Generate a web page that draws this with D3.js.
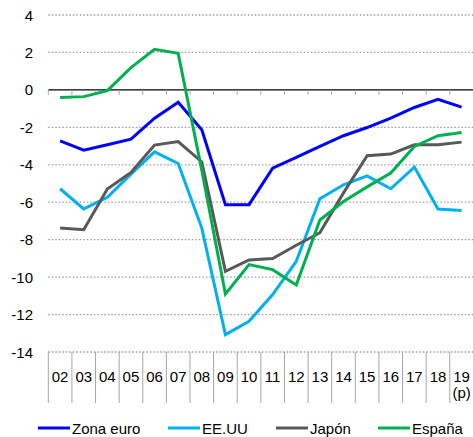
<!DOCTYPE html>
<html><head><meta charset="utf-8">
<script src="https://cdn.jsdelivr.net/npm/d3@7"></script>
<style>
html,body{margin:0;padding:0;background:#fff;}
svg{display:block;font-family:"Liberation Sans",Arial,sans-serif;}
</style></head>
<body>
<svg id="c" width="473" height="437"></svg>
<script>
const categories = ["02","03","04","05","06","07","08","09","10","11","12","13","14","15","16","17","18","19"];
const yTicks = [4,2,0,-2,-4,-6,-8,-10,-12,-14];
const zonaEuro = [-2.72,-3.22,-2.93,-2.63,-1.51,-0.66,-2.13,-6.13,-6.13,-4.18,-3.6,-3.02,-2.45,-2.01,-1.51,-0.94,-0.5,-0.92];
const eeuu     = [-5.28,-6.36,-5.74,-4.5,-3.31,-3.93,-7.38,-13.07,-12.36,-10.93,-9.16,-5.81,-5.07,-4.59,-5.28,-4.12,-6.36,-6.44];
const japon    = [-7.38,-7.47,-5.3,-4.41,-2.95,-2.76,-3.85,-9.69,-9.08,-9.01,-8.3,-7.63,-5.5,-3.52,-3.43,-2.93,-2.93,-2.79];
const espana   = [-0.41,-0.36,-0.04,1.19,2.17,1.95,-4.3,-10.9,-9.33,-9.6,-10.42,-6.95,-5.96,-5.18,-4.44,-3.02,-2.45,-2.28];
const seriesNames = ["Zona euro","EE.UU","Japón","España"];
const seriesColors = ["#0000ff","#00b0f0","#595959","#00b050"];
const seriesData = [zonaEuro, eeuu, japon, espana];

(function(){
const svg = d3.select("#c");
const pl = 48.3, pr = 473.4, pt = 15, pb = 352;
const x = d3.scaleBand().domain(categories).range([pl, pr]);
const y = d3.scaleLinear().domain([-14,4]).range([pb, pt]);

// gridlines
svg.append("g").selectAll("line").data(yTicks.filter(d=>d!==0)).join("line")
  .attr("x1", pl).attr("x2", pr)
  .attr("y1", d=>y(d)).attr("y2", d=>y(d))
  .attr("stroke","#9a9a9a").attr("stroke-width",1.3).attr("stroke-dasharray","1.5,2");

// y labels
svg.append("g").selectAll("text").data(yTicks).join("text")
  .attr("x", 33).attr("y", d=>y(d)+5.5).attr("text-anchor","end")
  .attr("font-size",15).attr("fill","#000").text(d=>d);

// category separators at bottom
const bounds = categories.map(c=>x(c));
svg.append("g").selectAll("line").data(bounds).join("line")
  .attr("x1", d=>d).attr("x2", d=>d).attr("y1", pb).attr("y2", 403)
  .attr("stroke","#a6a6a6").attr("stroke-width",1);

// zero axis with ticks
svg.append("line").attr("x1", pl).attr("x2", pr).attr("y1", y(0)).attr("y2", y(0))
  .attr("stroke","#000").attr("stroke-width",1.3);
svg.append("g").selectAll("line").data(bounds).join("line")
  .attr("x1", d=>d).attr("x2", d=>d).attr("y1", y(0)).attr("y2", y(0)+5)
  .attr("stroke","#a6a6a6").attr("stroke-width",1);

// x labels
svg.append("g").selectAll("text").data(categories).join("text")
  .attr("x", d=>x(d)+x.bandwidth()/2).attr("y", 382).attr("text-anchor","middle")
  .attr("font-size",15).attr("fill","#000").text(d=>d);
svg.append("text").attr("x", x("19")+x.bandwidth()/2).attr("y", 398).attr("text-anchor","middle")
  .attr("font-size",15).attr("fill","#000").text("(p)");

// lines
const line = d3.line().x((d,i)=>x(categories[i])+x.bandwidth()/2).y(d=>y(d));
seriesData.forEach((s,k)=>{
  svg.append("path").datum(s).attr("d", line).attr("fill","none")
    .attr("stroke", seriesColors[k]).attr("stroke-width",3).attr("stroke-linejoin","miter");
});

// legend
const legX = [38,168,276,378];
seriesNames.forEach((n,k)=>{
  svg.append("line").attr("x1", legX[k]).attr("x2", legX[k]+32).attr("y1",428).attr("y2",428)
    .attr("stroke", seriesColors[k]).attr("stroke-width",3);
  svg.append("text").attr("x", legX[k]+34).attr("y",433.5).attr("font-size",15).attr("fill","#000").text(n);
});
})();
</script>
</body></html>
